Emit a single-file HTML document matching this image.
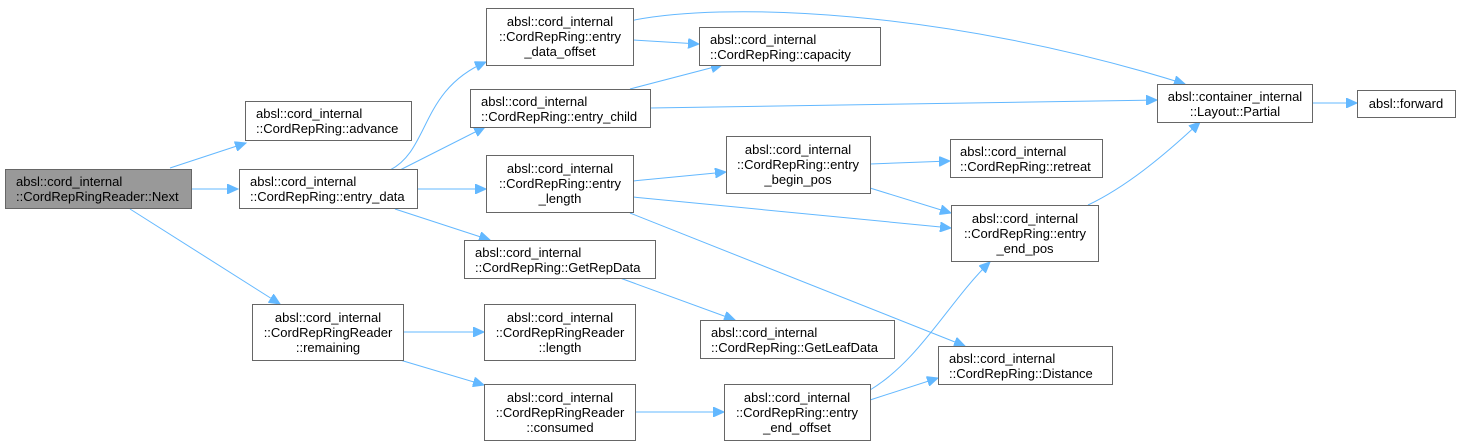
<!DOCTYPE html>
<html><head><meta charset="utf-8"><style>
body{margin:0;background:#fff}
svg{display:block}
text{font-family:"Liberation Sans",Arial,sans-serif;font-size:13px;fill:#000}
.b{fill:#fff;stroke:#666;stroke-width:1}
.e{fill:none;stroke:#63b8ff;stroke-width:1}
</style></head><body>
<svg width="1462" height="446" viewBox="0 0 1462 446">
<defs><marker id="a" markerWidth="12" markerHeight="10" refX="11" refY="5" orient="auto" markerUnits="userSpaceOnUse"><path d="M0,0 L11,5 L0,10 z" fill="#63b8ff" stroke="#63b8ff"/></marker></defs>
<g class="e" marker-end="url(#a)">
<path d="M170,168 L246,143"/>
<path d="M192,189 L238,189"/>
<path d="M130,209 L280,304"/>
<path d="M390,170 C430,150 420,90 486,62"/>
<path d="M400,170 L485,127"/>
<path d="M417,189 L486,189"/>
<path d="M395,209 L490,240"/>
<path d="M403,332 L484,332"/>
<path d="M400,360 L484,385"/>
<path d="M633,40 L699,44"/>
<path d="M625,22 C720,0 950,10 1185,84"/>
<path d="M630,89 L722,65"/>
<path d="M650,108 L1157,100"/>
<path d="M633,181 L726,172"/>
<path d="M633,197 L951,228"/>
<path d="M630,213 L965,346"/>
<path d="M870,164 L950,161"/>
<path d="M870,188 L951,213"/>
<path d="M1088,205 C1130,185 1170,150 1200,122"/>
<path d="M620,278 L735,320"/>
<path d="M635,412 L724,412"/>
<path d="M870,390 C920,360 950,300 990,262"/>
<path d="M870,400 L938,378"/>
<path d="M1312,103 L1357,103"/>
</g>
<rect x="5.5" y="169.5" width="186" height="39" fill="#999" stroke="#666"/>
<text x="16" y="186">absl::cord_internal</text><text x="16" y="201">::CordRepRingReader::Next</text>
<rect class="b" x="245.5" y="101.5" width="166" height="39"/>
<text x="256" y="118">absl::cord_internal</text><text x="256" y="133">::CordRepRing::advance</text>
<rect class="b" x="239.5" y="169.5" width="178" height="39"/>
<text x="250" y="186">absl::cord_internal</text><text x="250" y="201">::CordRepRing::entry_data</text>
<rect class="b" x="252.5" y="304.5" width="151" height="56"/>
<text x="328" y="322" text-anchor="middle">absl::cord_internal</text><text x="328" y="337" text-anchor="middle">::CordRepRingReader</text><text x="328" y="352" text-anchor="middle">::remaining</text>
<rect class="b" x="486.5" y="8.5" width="147" height="57"/>
<text x="560" y="26" text-anchor="middle">absl::cord_internal</text><text x="560" y="41" text-anchor="middle">::CordRepRing::entry</text><text x="560" y="56" text-anchor="middle">_data_offset</text>
<rect class="b" x="470.5" y="89.5" width="180" height="38"/>
<text x="481" y="106">absl::cord_internal</text><text x="481" y="121">::CordRepRing::entry_child</text>
<rect class="b" x="486.5" y="155.5" width="147" height="57"/>
<text x="560" y="173" text-anchor="middle">absl::cord_internal</text><text x="560" y="188" text-anchor="middle">::CordRepRing::entry</text><text x="560" y="203" text-anchor="middle">_length</text>
<rect class="b" x="464.5" y="240.5" width="191" height="38"/>
<text x="475" y="257">absl::cord_internal</text><text x="475" y="272">::CordRepRing::GetRepData</text>
<rect class="b" x="484.5" y="304.5" width="151" height="56"/>
<text x="560" y="322" text-anchor="middle">absl::cord_internal</text><text x="560" y="337" text-anchor="middle">::CordRepRingReader</text><text x="560" y="352" text-anchor="middle">::length</text>
<rect class="b" x="484.5" y="384.5" width="151" height="56"/>
<text x="560" y="402" text-anchor="middle">absl::cord_internal</text><text x="560" y="417" text-anchor="middle">::CordRepRingReader</text><text x="560" y="432" text-anchor="middle">::consumed</text>
<rect class="b" x="699.5" y="27.5" width="181" height="38"/>
<text x="710" y="44">absl::cord_internal</text><text x="710" y="59">::CordRepRing::capacity</text>
<rect class="b" x="726.5" y="136.5" width="144" height="57"/>
<text x="798" y="154" text-anchor="middle">absl::cord_internal</text><text x="798" y="169" text-anchor="middle">::CordRepRing::entry</text><text x="798" y="184" text-anchor="middle">_begin_pos</text>
<rect class="b" x="700.5" y="320.5" width="194" height="38"/>
<text x="711" y="337">absl::cord_internal</text><text x="711" y="352">::CordRepRing::GetLeafData</text>
<rect class="b" x="724.5" y="384.5" width="146" height="56"/>
<text x="797" y="402" text-anchor="middle">absl::cord_internal</text><text x="797" y="417" text-anchor="middle">::CordRepRing::entry</text><text x="797" y="432" text-anchor="middle">_end_offset</text>
<rect class="b" x="950.5" y="139.5" width="152" height="38"/>
<text x="960" y="156">absl::cord_internal</text><text x="960" y="171">::CordRepRing::retreat</text>
<rect class="b" x="951.5" y="205.5" width="147" height="56"/>
<text x="1025" y="223" text-anchor="middle">absl::cord_internal</text><text x="1025" y="238" text-anchor="middle">::CordRepRing::entry</text><text x="1025" y="253" text-anchor="middle">_end_pos</text>
<rect class="b" x="938.5" y="346.5" width="174" height="38"/>
<text x="949" y="363">absl::cord_internal</text><text x="949" y="378">::CordRepRing::Distance</text>
<rect class="b" x="1157.5" y="84.5" width="155" height="38"/>
<text x="1235" y="101" text-anchor="middle">absl::container_internal</text><text x="1235" y="116" text-anchor="middle">::Layout::Partial</text>
<rect class="b" x="1357.5" y="90.5" width="98" height="27"/>
<text x="1406" y="108" text-anchor="middle">absl::forward</text>
</svg>
</body></html>
